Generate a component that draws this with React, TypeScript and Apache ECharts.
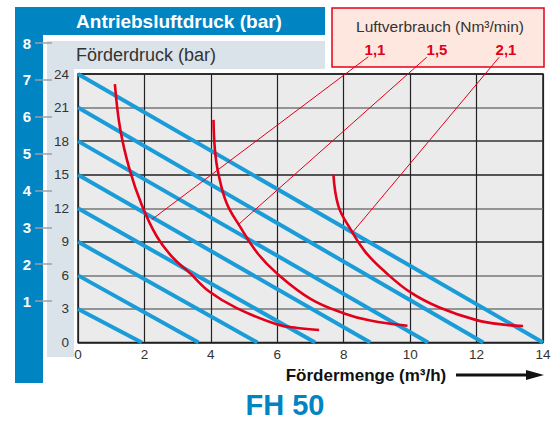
import React, { useEffect, useRef } from "react";
import * as echarts from "echarts";

// Förderdruck axis ticks (bar) and Fördermenge ticks (m³/h)
const pressureTicks = [0, 3, 6, 9, 12, 15, 18, 21, 24];
const flowTicks = [0, 2, 4, 6, 8, 10, 12, 14];
// Antriebsluftdruck scale (bar)
const airPressureTicks = [1, 2, 3, 4, 5, 6, 7, 8];

// Air pressure lines: start on the pressure axis, end on the flow axis
const airLineStartPressure = [3, 6, 9, 12, 15, 18, 21, 24];
const airLineEndFlow = [1.92, 3.63, 5.4, 7.14, 8.8, 10.54, 12.2, 14.0];

// Air consumption curves (Nm³/min) – [flow, pressure]
const consumptionLabels = ["1,1", "1,5", "2,1"];
const curve11: [number, number][] = [
  [1.11, 23.1], [1.27, 19.1], [1.55, 15.5], [1.92, 12.3], [2.37, 9.5],
  [2.85, 7.6], [3.37, 6.2], [3.95, 4.56], [4.78, 3.07], [6.0, 1.6],
  [6.6, 1.3], [7.26, 1.12],
];
const curve15: [number, number][] = [
  [4.08, 19.9], [4.12, 17.3], [4.22, 15.2], [4.47, 12.5], [4.87, 10.4],
  [5.4, 8.0], [5.98, 6.2], [7.0, 3.9], [7.99, 2.62], [8.8, 1.96], [9.92, 1.5],
];
const curve21: [number, number][] = [
  [7.69, 15.0], [7.84, 12.2], [8.19, 10.2], [8.65, 8.1], [9.25, 6.3],
  [10.0, 4.5], [10.9, 3.1], [12.0, 2.0], [12.9, 1.57], [13.4, 1.48],
];
// Leader lines from legend labels to curves – [flow, pressure]
const leader11: [number, number][] = [[8.74, 25.54], [2.22, 10.99]];
const leader15: [number, number][] = [[10.5, 25.5], [4.85, 10.6]];
const leader21: [number, number][] = [[12.68, 25.5], [8.28, 9.9]];

const BLUE = "#0084c2";
const LINE_BLUE = "#1a9cd8";
const RED = "#e2001a";
const FONT = "Liberation Sans, Arial, sans-serif";

export default function App() {
  const ref = useRef<HTMLDivElement>(null);
  useEffect(() => {
    if (!ref.current) return;
    const chart = echarts.init(ref.current, undefined, { renderer: "svg" });

    const hColors = ["#222", "#777", "#777", "#222", "#777", "#222", "#333", "#777", "#222"];

    const blueSeries = airLineStartPressure.map((p, i) => ({
      type: "line",
      xAxisIndex: 0,
      yAxisIndex: 0,
      data: [[0, p], [airLineEndFlow[i], 0]],
      symbol: "none",
      lineStyle: { color: LINE_BLUE, width: 4 },
      z: 2,
      silent: true,
    }));

    const curves = [curve11, curve15, curve21].map((c) => ({
      type: "line",
      xAxisIndex: 0,
      yAxisIndex: 0,
      data: c,
      smooth: 0.4,
      symbol: "none",
      lineStyle: { color: RED, width: 2.6 },
      z: 3,
      silent: true,
    }));

    const leaders = [leader11, leader15, leader21].map((c) => ({
      type: "line",
      xAxisIndex: 0,
      yAxisIndex: 0,
      data: c,
      symbol: "none",
      clip: false,
      lineStyle: { color: RED, width: 1 },
      z: 4,
      silent: true,
    }));

    const labelX = [375, 437, 506];

    const option: any = {
      animation: false,
      backgroundColor: "#ffffff",
      textStyle: { fontFamily: FONT },
      grid: [
        {
          left: 78, top: 74, width: 465, height: 268.5,
          show: true, backgroundColor: "#ebebeb", borderColor: "#222", borderWidth: 1.5,
        },
        { left: 52, top: 43, width: 1, height: 258, show: false },
      ],
      xAxis: [
        {
          gridIndex: 0, type: "value", min: flowTicks[0], max: flowTicks[flowTicks.length - 1], interval: 2,
          axisLine: { show: false }, axisTick: { show: false },
          axisLabel: { color: "#333", fontSize: 13.5, margin: 5, fontFamily: FONT },
          splitLine: { show: true, lineStyle: { color: "#222", width: 1.2 } },
        },
        { gridIndex: 1, type: "value", show: false, min: 0, max: 1 },
      ],
      yAxis: [
        {
          gridIndex: 0, type: "value", min: pressureTicks[0], max: pressureTicks[pressureTicks.length - 1], interval: 3,
          axisLine: { show: false }, axisTick: { show: false },
          axisLabel: { color: "#333", fontSize: 13.5, margin: 9, fontFamily: FONT },
          splitLine: { show: true, lineStyle: { color: hColors, width: 1.6 } },
        },
        {
          gridIndex: 1, type: "value", min: airPressureTicks[0], max: airPressureTicks[airPressureTicks.length - 1], interval: 1,
          axisLine: { show: false },
          axisTick: { show: true, length: 17, lineStyle: { color: "#9aa0a6", width: 1.5 } },
          axisLabel: { color: "#fff", fontSize: 15, fontWeight: "bold", margin: 21, fontFamily: FONT },
          splitLine: { show: false },
        },
      ],
      graphic: [
        { type: "rect", z: -10, shape: { x: 15, y: 7, width: 310, height: 28 }, style: { fill: BLUE } },
        { type: "rect", z: -10, shape: { x: 15, y: 7, width: 28, height: 376 }, style: { fill: BLUE } },
        { type: "rect", z: -10, shape: { x: 47, y: 41, width: 27, height: 316 }, style: { fill: "#dae3ea" } },
        { type: "rect", z: -10, shape: { x: 47, y: 41, width: 278, height: 28 }, style: { fill: "#dae3ea" } },
        {
          type: "text", z: 5, x: 179, y: 21,
          style: { text: "Antriebsluftdruck (bar)", fill: "#fff", font: `bold 19px ${FONT}`, align: "center", verticalAlign: "middle" },
        },
        {
          type: "text", z: 5, x: 76, y: 55,
          style: { text: "Förderdruck (bar)", fill: "#333", font: `18px ${FONT}`, align: "left", verticalAlign: "middle" },
        },
        {
          type: "rect", z: -10, shape: { x: 332, y: 8, width: 212, height: 59 },
          style: { fill: "#fde7df", stroke: RED, lineWidth: 1.5 },
        },
        {
          type: "text", z: 5, x: 440, y: 26,
          style: { text: "Luftverbrauch (Nm³/min)", fill: "#333", font: `15.5px ${FONT}`, align: "center", verticalAlign: "middle" },
        },
        ...consumptionLabels.map((t, i) => ({
          type: "text", z: 5, x: labelX[i], y: 49,
          style: { text: t, fill: RED, font: `bold 15px ${FONT}`, align: "center", verticalAlign: "middle" },
        })),
        {
          type: "text", z: 5, x: 366, y: 375,
          style: { text: "Fördermenge (m³/h)", fill: "#111", font: `bold 17px ${FONT}`, align: "center", verticalAlign: "middle" },
        },
        { type: "line", z: 5, shape: { x1: 456, y1: 375, x2: 530, y2: 375 }, style: { stroke: "#111", lineWidth: 3 } },
        { type: "polygon", z: 5, shape: { points: [[526, 370], [544, 375], [526, 380]] }, style: { fill: "#111" } },
        {
          type: "text", z: 5, x: 285, y: 405,
          style: { text: "FH 50", fill: BLUE, font: `bold 29px ${FONT}`, align: "center", verticalAlign: "middle" },
        },
      ],
      series: [...blueSeries, ...curves, ...leaders],
    };
    chart.setOption(option);
    return () => chart.dispose();
  }, []);

  return (
    <div
      ref={ref}
      style={{ position: "fixed", left: 0, top: 0, width: 557, height: 421 }}
    />
  );
}
